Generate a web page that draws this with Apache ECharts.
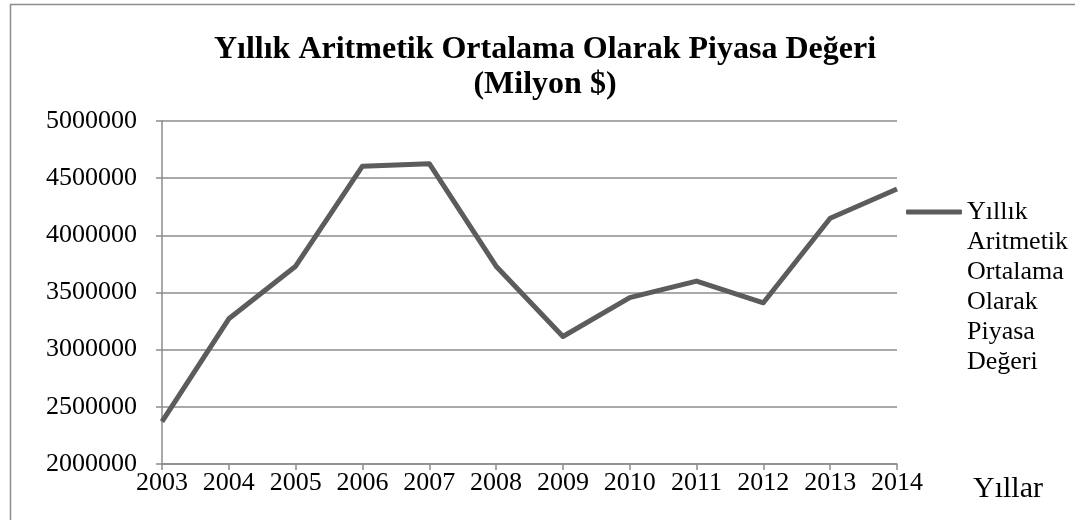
<!DOCTYPE html>
<html>
<head>
<meta charset="utf-8">
<script src="https://cdn.jsdelivr.net/npm/echarts@6/dist/echarts.min.js"></script>
<style>
html,body{margin:0;padding:0;background:#fff;}
#chart{width:1075px;height:520px;}
</style>
</head>
<body>
<div id="chart"></div>
<script>
const years = ['2003','2004','2005','2006','2007','2008','2009','2010','2011','2012','2013','2014'];
const values = [2370000, 3270000, 3730000, 4605000, 4627000, 3730000, 3115000, 3455000, 3600000, 3410000, 4150000, 4405000];
const seriesName = 'Yıllık Aritmetik Ortalama Olarak Piyasa Değeri';
const titleText = 'Yıllık Aritmetik Ortalama Olarak Piyasa Değeri\n(Milyon $)';
const xName = 'Yıllar';
const yMin = 2000000, yMax = 5000000, yStep = 500000;

const FONT = "'Liberation Serif', 'Times New Roman', serif";
const GRAY = '#8c8c8c';
const LINE = '#5c5c5c';

const chart = echarts.init(document.getElementById('chart'));
chart.setOption({
  backgroundColor: '#fff',
  animation: false,
  graphic: [{
    type: 'rect', silent: true, z: -1,
    shape: { x: 10.5, y: 4.5, width: 1200, height: 700 },
    style: { fill: 'none', stroke: GRAY, lineWidth: 1.5 }
  }],
  title: {
    text: titleText,
    left: 545,
    textAlign: 'center',
    top: 32,
    padding: 0,
    textStyle: { fontFamily: FONT, fontWeight: 'bold', fontSize: 32, lineHeight: 35, color: '#000' }
  },
  legend: {
    orient: 'vertical',
    left: 906,
    top: 47,
    padding: 0,
    itemWidth: 56,
    itemHeight: 5,
    itemGap: 0,
    icon: 'roundRect',
    data: [seriesName],
    itemStyle: { color: LINE },
    formatter: function (n) {
      const parts = n.split(' ');
      const pad = new Array(parts.length - 1).fill('').join('\n');
      return pad + '\n' + parts.join('\n');
    },
    textStyle: { fontFamily: FONT, fontSize: 26, lineHeight: 30, color: '#000' }
  },
  grid: { left: 162, right: 178, top: 121, bottom: 56, containLabel: false },
  xAxis: {
    type: 'category',
    data: years,
    boundaryGap: false,
    name: xName,
    nameLocation: 'end',
    nameGap: 76,
    nameTextStyle: { fontFamily: FONT, fontSize: 30, color: '#000', verticalAlign: 'top', padding: [10, 0, 0, 0] },
    axisLine: { lineStyle: { color: GRAY, width: 1.5 } },
    axisTick: { show: true, alignWithLabel: true, interval: 0, length: 6, lineStyle: { color: GRAY, width: 1.5 } },
    axisLabel: { fontFamily: FONT, fontSize: 26, color: '#000', margin: 6, interval: 0 },
    splitLine: { show: false }
  },
  yAxis: {
    type: 'value',
    min: yMin, max: yMax, interval: yStep,
    axisLine: { show: true, lineStyle: { color: GRAY, width: 1.5 } },
    axisTick: { show: true, length: 6, lineStyle: { color: GRAY, width: 1.5 } },
    axisLabel: { fontFamily: FONT, fontSize: 26, color: '#000', margin: 25, formatter: function (v) { return String(v); } },
    splitLine: { show: true, lineStyle: { color: GRAY, width: 1.5 } }
  },
  series: [{
    name: seriesName,
    type: 'line',
    data: values,
    symbol: 'none',
    lineStyle: { color: LINE, width: 5, join: 'round' },
    itemStyle: { color: LINE }
  }]
});
</script>
</body>
</html>
